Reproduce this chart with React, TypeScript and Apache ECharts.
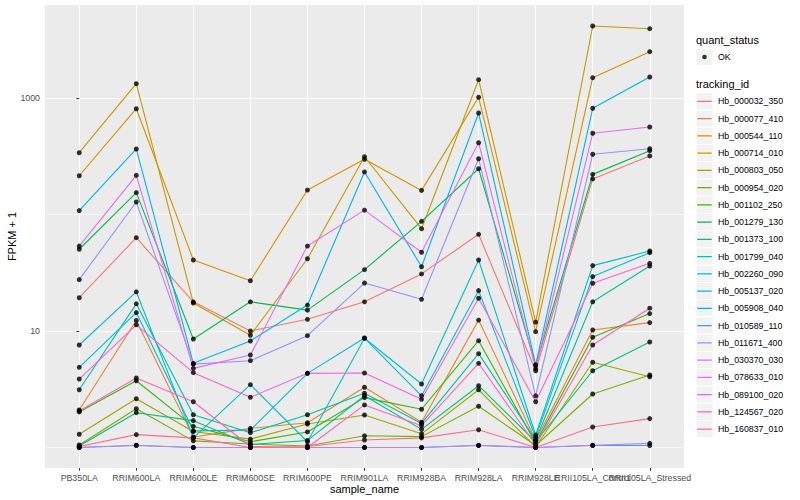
import React, { useEffect, useRef } from "react";
import * as echarts from "echarts";

const sampleNames = [
  "PB350LA", "RRIM600LA", "RRIM600LE", "RRIM600SE", "RRIM600PE", "RRIM901LA",
  "RRIM928BA", "RRIM928LA", "RRIM928LE", "RRII105LA_Control", "RRII105LA_Stressed",
];

const trackingIds = [
  "Hb_000032_350", "Hb_000077_410", "Hb_000544_110", "Hb_000714_010", "Hb_000803_050",
  "Hb_000954_020", "Hb_001102_250", "Hb_001279_130", "Hb_001373_100", "Hb_001799_040",
  "Hb_002260_090", "Hb_005137_020", "Hb_005908_040", "Hb_010589_110", "Hb_011671_400",
  "Hb_030370_030", "Hb_078633_010", "Hb_089100_020", "Hb_124567_020", "Hb_160837_010",
];

const seriesColors = [
  "#F8766D", "#EA8331", "#D89000", "#C09B00", "#A3A500", "#7CAE00", "#39B600",
  "#00BB4E", "#00BF7D", "#00C1A3", "#00BFC4", "#00BAE0", "#00B0F6", "#35A2FF",
  "#9590FF", "#C77CFF", "#E76BF3", "#FA62DB", "#FF62BC", "#FF6C91",
];

// FPKM + 1 per sample (same order as sampleNames)
const hb_000032_350 = [19.3, 63.2, 17.8, 10.0, 12.6, 17.8, 30.9, 67.6, 4.56, 202, 318];
const hb_000077_410 = [2.1, 12.3, 1.23, 1.46, 1.63, 3.29, 1.65, 12.4, 1.15, 10.2, 11.8];
const hb_000544_110 = [215, 809, 40.7, 27.0, 162, 298, 161, 1014, 9.86, 1494, 2497];
const hb_000714_010 = [339, 1327, 17.4, 9.19, 41.7, 313, 75.5, 1436, 11.9, 4150, 3934];
const hb_000803_050 = [1.3, 2.62, 1.37, 1.18, 1.59, 1.9, 1.31, 3.13, 1.01, 5.39, 4.05];
const hb_000954_020 = [1.05, 2.15, 1.14, 1.07, 1.03, 1.26, 1.24, 2.26, 1.04, 2.88, 4.19];
const hb_001102_250 = [2.02, 3.74, 1.52, 1.12, 1.36, 2.68, 2.13, 8.26, 1.09, 8.83, 14.1];
const hb_001279_130 = [50.3, 154, 8.54, 17.8, 15.1, 33.6, 87.4, 247, 5.08, 221, 353];
const hb_001373_100 = [1.03, 1.99, 1.7, 1.06, 1.15, 2.78, 1.43, 3.39, 1.12, 4.56, 8.04];
const hb_001799_040 = [3.13, 17.1, 1.91, 1.34, 1.91, 2.92, 1.61, 6.39, 1.16, 17.8, 36.1];
const hb_002260_090 = [7.58, 21.7, 1.21, 3.46, 1.12, 8.66, 3.51, 40.7, 1.28, 36.4, 48.6];
const hb_005137_020 = [4.88, 14.4, 1.39, 1.41, 4.33, 8.7, 2.78, 22.2, 1.22, 29.3, 47.0];
const hb_005908_040 = [108, 365, 5.28, 8.21, 16.7, 232, 35.6, 743, 5.11, 816, 1515];
const hb_010589_110 = [1.0, 1.04, 1.0, 1.0, 1.0, 1.0, 1.0, 1.04, 1.0, 1.04, 1.04];
const hb_011671_400 = [27.6, 128, 5.2, 5.56, 9.11, 25.8, 18.7, 301, 2.77, 329, 367];
const hb_030370_030 = [1.0, 1.045, 1.0, 1.0, 1.0, 1.0, 1.0, 1.045, 1.0, 1.045, 1.085];
const hb_078633_010 = [53.6, 217, 4.78, 6.22, 53.6, 109, 47.4, 413, 4.75, 498, 564];
const hb_089100_020 = [3.87, 11.3, 4.39, 2.7, 4.33, 4.36, 2.59, 19.1, 2.47, 25.7, 38.1];
const hb_124567_020 = [2.06, 3.95, 2.47, 1.02, 1.0, 2.32, 1.54, 5.28, 1.05, 7.58, 15.7];
const hb_160837_010 = [1.02, 1.29, 1.21, 1.0, 1.02, 1.16, 1.21, 1.42, 1.0, 1.5, 1.77];

const seriesValues = [
  hb_000032_350, hb_000077_410, hb_000544_110, hb_000714_010, hb_000803_050,
  hb_000954_020, hb_001102_250, hb_001279_130, hb_001373_100, hb_001799_040,
  hb_002260_090, hb_005137_020, hb_005908_040, hb_010589_110, hb_011671_400,
  hb_030370_030, hb_078633_010, hb_089100_020, hb_124567_020, hb_160837_010,
];

const yLabelValues = [10, 1000];
const yMinorValues = [1, 100];
const yMin = 0.6668;
const yMax = 6283;

// labels split over two (identical) axes so that the overlapping pair is not auto-hidden
const xLabelsMain = [0, 1, 2, 3, 4, 5, 6, 7, 8, 10];
const xLabelsExtra = [9];

const FONT = "'Liberation Sans', Arial, Helvetica, sans-serif";

const lineIcon =
  "path://M0,0h0.01v0.01h-0.01z M1.2,8.1h14.6v1.1h-14.6z M16.99,17.24h0.01v0.01h-0.01z";
const dotIcon =
  "path://M0,0h0.01v0.01h-0.01z M6.2,8.5a2.3,2.3 0 1,0 4.6,0a2.3,2.3 0 1,0 -4.6,0z M16.99,16.99h0.01v0.01h-0.01z";

export default function App() {
  const ref = useRef<HTMLDivElement>(null);

  useEffect(() => {
    if (!ref.current) return;
    const chart = echarts.init(ref.current, null, { renderer: "svg" });
    const xIdx = sampleNames.map((_, i) => i);

    const lineSeries = trackingIds.map((id, k) => ({
      type: "line",
      name: id,
      data: seriesValues[k].map((v, i) => [i, v]),
      showSymbol: false,
      symbol: "none",
      lineStyle: { color: seriesColors[k], width: 1.1 },
      itemStyle: { color: seriesColors[k] },
      z: 2,
      silent: true,
    }));

    const pts: number[][] = [];
    seriesValues.forEach((vals) => vals.forEach((v, i) => pts.push([i, v])));

    const legendTop = 92.7;
    const keyH = 17.25;
    const keyRects = trackingIds.map((_, i) => ({
      type: "rect",
      shape: { x: 696, y: legendTop + i * keyH, width: 17, height: keyH },
      style: { fill: "#F2F2F2", stroke: "#FFFFFF", lineWidth: 1 },
      z: 1,
      silent: true,
    }));

    const xLabelBase = {
      formatter: (v: number) => sampleNames[Math.round(v)] ?? "",
      color: "#4D4D4D",
      fontSize: 8.8,
      fontFamily: FONT,
      margin: 5,
      showMinLabel: true,
      showMaxLabel: true,
      hideOverlap: false,
    };

    const option: any = {
      animation: false,
      backgroundColor: "#FFFFFF",
      textStyle: { fontFamily: FONT },
      grid: {
        left: 45,
        right: 116,
        top: 5,
        bottom: 32,
        show: true,
        backgroundColor: "#EBEBEB",
        borderWidth: 0,
        containLabel: false,
        outerBoundsMode: "none",
      },
      xAxis: [
        {
          type: "value",
          min: -0.6,
          max: 10.6,
          position: "bottom",
          axisLine: { show: false },
          axisTick: {
            show: true,
            customValues: xIdx,
            length: 2.75,
            lineStyle: { color: "#333333", width: 1 },
          },
          axisLabel: { ...xLabelBase, customValues: xLabelsMain },
          splitLine: { show: true, lineStyle: { color: "#FFFFFF", width: 1.07 } },
          name: "sample_name",
          nameLocation: "middle",
          nameGap: 15,
          nameMoveOverlap: false,
          nameTextStyle: { fontSize: 11, color: "#000000", fontFamily: FONT },
        },
        {
          type: "value",
          min: -0.6,
          max: 10.6,
          position: "bottom",
          offset: 0,
          axisLine: { show: false },
          axisTick: { show: false, customValues: xLabelsExtra },
          axisLabel: { ...xLabelBase, customValues: xLabelsExtra },
          splitLine: { show: false },
        },
      ],
      yAxis: [
        {
          type: "log",
          logBase: 10,
          min: yMin,
          max: yMax,
          axisLine: { show: false },
          axisTick: {
            show: true,
            customValues: yLabelValues,
            length: 2.75,
            lineStyle: { color: "#333333", width: 1 },
          },
          axisLabel: {
            customValues: yLabelValues,
            formatter: (v: number) => String(Math.round(v)),
            color: "#4D4D4D",
            fontSize: 8.8,
            fontFamily: FONT,
            margin: 5,
            showMinLabel: true,
            showMaxLabel: true,
          },
          splitLine: { show: true, lineStyle: { color: "#FFFFFF", width: 1.07 } },
          name: "FPKM + 1",
          nameLocation: "middle",
          nameGap: 28,
          nameRotate: 90,
          nameMoveOverlap: false,
          nameTextStyle: { fontSize: 11, color: "#000000", fontFamily: FONT },
        },
        {
          type: "log",
          logBase: 10,
          min: yMin,
          max: yMax,
          position: "left",
          axisLine: { show: false },
          axisTick: { show: false, customValues: yMinorValues },
          axisLabel: { show: false },
          splitLine: { show: true, lineStyle: { color: "#FFFFFF", width: 0.55 } },
        },
      ],
      legend: [
        {
          data: ["OK"],
          left: 696,
          top: 48.5,
          padding: 0,
          orient: "vertical",
          itemWidth: 17,
          itemHeight: 17,
          icon: dotIcon,
          selectedMode: false,
          itemStyle: { borderWidth: 0 },
          textStyle: { fontSize: 8.8, color: "#000000", fontFamily: FONT },
        },
        {
          data: trackingIds,
          left: 696,
          top: legendTop,
          padding: 0,
          orient: "vertical",
          itemWidth: 17,
          itemHeight: keyH,
          itemGap: 0,
          icon: lineIcon,
          selectedMode: false,
          itemStyle: { borderWidth: 0 },
          textStyle: { fontSize: 8.8, color: "#000000", fontFamily: FONT },
        },
      ],
      graphic: [
        {
          type: "rect",
          shape: { x: 696, y: 48.5, width: 17, height: 17 },
          style: { fill: "#F2F2F2", stroke: "#FFFFFF", lineWidth: 1 },
          z: 1,
          silent: true,
        },
        ...keyRects,
        {
          type: "text",
          x: 696,
          y: 40,
          style: {
            text: "quant_status",
            fontSize: 11,
            fontFamily: FONT,
            fill: "#000000",
            verticalAlign: "middle",
            align: "left",
          },
          z: 1,
        },
        {
          type: "text",
          x: 696,
          y: 84.3,
          style: {
            text: "tracking_id",
            fontSize: 11,
            fontFamily: FONT,
            fill: "#000000",
            verticalAlign: "middle",
            align: "left",
          },
          z: 1,
        },
      ],
      series: [
        ...lineSeries,
        {
          type: "scatter",
          name: "OK",
          data: pts,
          symbol: "circle",
          symbolSize: 5,
          itemStyle: { color: "#000000" },
          z: 3,
          silent: true,
        },
      ],
    };

    chart.setOption(option);
    return () => chart.dispose();
  }, []);

  return (
    <div
      ref={ref}
      style={{ position: "absolute", left: 0, top: 0, width: 800, height: 500 }}
    />
  );
}
